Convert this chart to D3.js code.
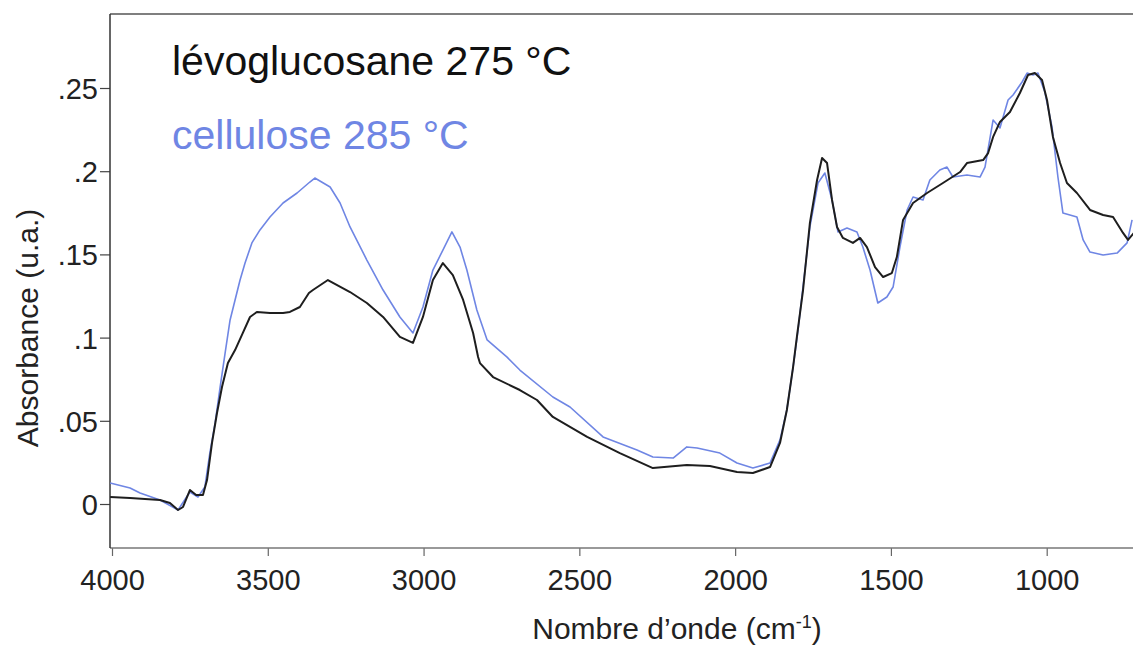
<!DOCTYPE html>
<html>
<head>
<meta charset="utf-8">
<script src="https://cdn.jsdelivr.net/npm/d3@7/dist/d3.min.js"></script>
<style>
  html, body { margin: 0; padding: 0; background: #fff; }
  svg { display: block; font-family: "Liberation Sans", Arial, sans-serif; }
</style>
</head>
<body>
<svg id="chart" width="1133" height="654"></svg>
<script>
// Wavenumbers (cm-1) and absorbance values
const levoWn = [4006,3942,3846,3814,3788,3772,3750,3730,3708,3695,3679,3663,3647,3628,3605,3580,3557,3535,3493,3451,3429,3397,3368,3355,3307,3236,3182,3130,3076,3034,3002,2970,2938,2906,2873,2841,2825,2819,2777,2691,2636,2585,2475,2370,2264,2155,2081,1994,1943,1888,1856,1834,1814,1801,1782,1760,1737,1721,1705,1689,1673,1654,1622,1599,1577,1551,1525,1497,1481,1461,1429,1384,1333,1278,1256,1204,1188,1172,1150,1118,1086,1060,1038,1015,999,980,957,935,903,861,819,787,755,739,720];
const levoAbs = [0.0042,0.0036,0.0024,0.0006,-0.0036,-0.0018,0.0084,0.0054,0.0054,0.0144,0.0367,0.0547,0.0703,0.0847,0.0925,0.1028,0.1124,0.1154,0.1148,0.1148,0.1154,0.1184,0.1268,0.1286,0.1346,0.1274,0.1208,0.1124,0.1004,0.0968,0.1124,0.1346,0.1448,0.1376,0.1226,0.1028,0.0883,0.0847,0.0763,0.0685,0.0625,0.0523,0.0403,0.0306,0.0216,0.0234,0.0228,0.0192,0.0186,0.0222,0.0367,0.0565,0.0823,0.1016,0.1286,0.1689,0.1947,0.2079,0.2049,0.1827,0.1665,0.1599,0.1569,0.1599,0.1544,0.1424,0.1364,0.1388,0.1484,0.1707,0.1809,0.1869,0.1929,0.1995,0.2049,0.2067,0.2109,0.2206,0.2296,0.2356,0.2470,0.2578,0.2590,0.2548,0.2428,0.2206,0.2049,0.1929,0.1869,0.1767,0.1737,0.1725,0.1629,0.1587,0.1629];

const celluWn = [4006,3942,3910,3846,3788,3750,3724,3702,3686,3669,3653,3637,3621,3605,3589,3573,3551,3525,3493,3451,3406,3365,3349,3300,3268,3236,3182,3130,3076,3034,3002,2970,2938,2909,2883,2861,2829,2796,2732,2691,2585,2530,2424,2315,2264,2199,2155,2122,2049,1994,1943,1888,1856,1834,1814,1798,1760,1734,1712,1689,1670,1641,1609,1590,1567,1542,1513,1493,1471,1448,1429,1397,1375,1343,1320,1301,1256,1214,1198,1172,1150,1124,1108,1079,1063,1044,1028,1006,983,964,948,903,883,861,819,774,742,726];
const celluAbs = [0.0126,0.0096,0.0066,0.0024,-0.0036,0.0072,0.0042,0.0102,0.0306,0.0487,0.0703,0.0907,0.1106,0.1226,0.1346,0.1448,0.1569,0.1647,0.1725,0.1809,0.1869,0.1935,0.1959,0.1905,0.1809,0.1665,0.1466,0.1286,0.1124,0.1028,0.1184,0.1406,0.1526,0.1635,0.1544,0.1406,0.1166,0.0986,0.0883,0.0805,0.0643,0.0583,0.0403,0.0325,0.0282,0.0276,0.0343,0.0337,0.0306,0.0246,0.0216,0.0246,0.0385,0.0565,0.0823,0.1046,0.1665,0.1929,0.1989,0.1827,0.1635,0.1659,0.1635,0.1544,0.1406,0.1208,0.1244,0.1304,0.1544,0.1767,0.1845,0.1827,0.1947,0.2007,0.2025,0.1965,0.1977,0.1965,0.2025,0.2308,0.2260,0.2428,0.2458,0.2536,0.2590,0.2578,0.2590,0.2476,0.2266,0.1965,0.1749,0.1725,0.1587,0.1514,0.1496,0.1508,0.1569,0.1707];

const xTicks = [4000, 3500, 3000, 2500, 2000, 1500, 1000];
const yTicks = [0, 0.05, 0.1, 0.15, 0.2, 0.25];
const yTickLabels = ["0", ".05", ".1", ".15", ".2", ".25"];
const seriesNames = ["lévoglucosane 275 °C", "cellulose 285 °C"];

const svg = d3.select("#chart");
const W = 1133, H = 654;
const plotLeft = 110, plotTop = 14, plotBottom = 548;

const x = d3.scaleLinear().domain([4000, 1000]).range([112, 1046.7]);
const y = d3.scaleLinear().domain([0, 0.25]).range([504, 88]);

const blue = "#6f86e4";
const dark = "#1e1e1e";

// clip
svg.append("defs").append("clipPath").attr("id", "plotclip")
  .append("rect").attr("x", plotLeft).attr("y", plotTop).attr("width", W - plotLeft).attr("height", plotBottom - plotTop);

// frame: top border
svg.append("line").attr("x1", plotLeft).attr("x2", W).attr("y1", plotTop).attr("y2", plotTop)
  .attr("stroke", "#555").attr("stroke-width", 1.5);

// x axis
const xAxis = d3.axisBottom(x).tickValues(xTicks).tickSize(8).tickSizeOuter(0).tickFormat(d3.format("d"));
const gx = svg.append("g").attr("transform", `translate(0,${plotBottom})`).call(xAxis);
gx.select(".domain").remove();
gx.selectAll(".tick line").attr("stroke", "#666").attr("stroke-width", 1.2);
gx.selectAll(".tick text").attr("font-size", 29).attr("fill", "#222").attr("dy", "0").attr("y", 42)
  .attr("font-family", "Liberation Sans, Arial, sans-serif");
svg.append("line").attr("x1", plotLeft).attr("x2", W).attr("y1", plotBottom).attr("y2", plotBottom)
  .attr("stroke", "#777").attr("stroke-width", 1.5);

// y axis
const yAxis = d3.axisLeft(y).tickValues(yTicks).tickSize(10).tickSizeOuter(0)
  .tickFormat((d, i) => yTickLabels[i]);
const gy = svg.append("g").attr("transform", `translate(${plotLeft},0)`).call(yAxis);
gy.select(".domain").remove();
gy.selectAll(".tick line").attr("stroke", "#444").attr("stroke-width", 1.2);
gy.selectAll(".tick text").attr("font-size", 29).attr("fill", "#222").attr("x", -12).attr("dy", "0.36em")
  .attr("font-family", "Liberation Sans, Arial, sans-serif");
svg.append("line").attr("x1", plotLeft).attr("x2", plotLeft).attr("y1", plotTop).attr("y2", plotBottom)
  .attr("stroke", "#333").attr("stroke-width", 1.5);

// lines
const line = d3.line().x(d => x(d[0])).y(d => y(d[1]));
const plot = svg.append("g").attr("clip-path", "url(#plotclip)");
plot.append("path").datum(d3.zip(celluWn, celluAbs)).attr("d", line)
  .attr("fill", "none").attr("stroke", blue).attr("stroke-width", 1.6).attr("stroke-linejoin", "round");
plot.append("path").datum(d3.zip(levoWn, levoAbs)).attr("d", line)
  .attr("fill", "none").attr("stroke", dark).attr("stroke-width", 2).attr("stroke-linejoin", "round");

// legend texts
svg.append("text").attr("x", 172).attr("y", 75).attr("font-size", 41).attr("fill", "#111")
  .text(seriesNames[0]);
svg.append("text").attr("x", 172).attr("y", 149).attr("font-size", 41).attr("fill", blue)
  .text(seriesNames[1]);

// axis titles
const xt = svg.append("text").attr("x", 677).attr("y", 639).attr("text-anchor", "middle")
  .attr("font-size", 30).attr("fill", "#222");
xt.append("tspan").text("Nombre d’onde (cm");
xt.append("tspan").attr("font-size", 18).attr("dy", -11).text("-1");
xt.append("tspan").attr("dy", 11).text(")");

svg.append("text").attr("transform", "translate(38,328) rotate(-90)").attr("text-anchor", "middle")
  .attr("font-size", 30).attr("fill", "#222").text("Absorbance (u.a.)");
</script>
</body>
</html>
